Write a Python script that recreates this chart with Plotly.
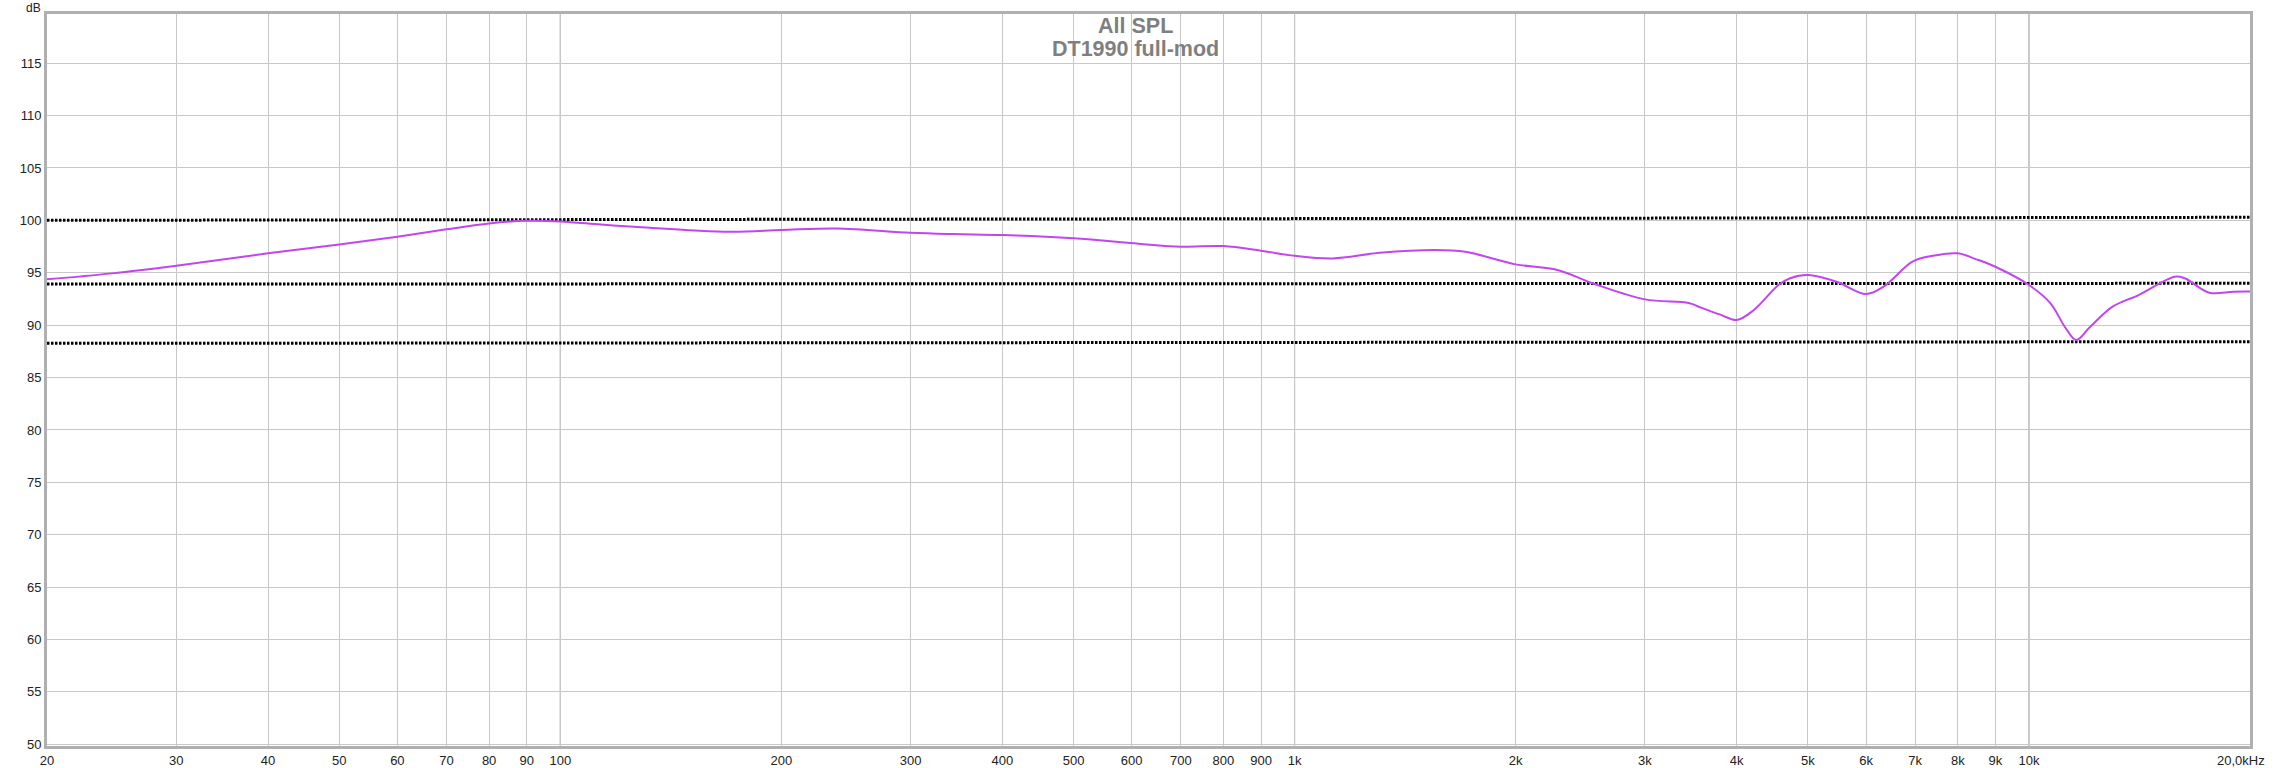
import plotly.graph_objects as go

# ---- data ----
freq_hz = [20, 24.5, 30, 40, 50, 60, 70, 80, 90, 100, 113.6, 126, 170, 200, 238, 300, 344, 400,
           500, 618, 700, 800, 900, 1000, 1126, 1306, 1553, 1708, 2000, 2280, 2563, 3000, 3440,
           3550, 3800, 4000, 4220, 4560, 4730, 5000, 5470, 6000, 6340, 6940, 7360, 8000, 8480,
           9000, 10000, 10700, 11200, 11600, 12100, 13000, 14100, 15800, 16300, 17600, 19000, 20000]
spl_db = [94.37, 94.94, 95.67, 96.85, 97.7, 98.44, 99.14, 99.7, 99.96, 99.9, 99.6, 99.39, 98.91,
          99.07, 99.23, 98.82, 98.69, 98.6, 98.28, 97.75, 97.48, 97.55, 97.1, 96.62, 96.37, 96.9,
          97.17, 97.0, 95.8, 95.26, 93.92, 92.46, 92.12, 91.76, 91.0, 90.49, 91.44, 93.83, 94.47,
          94.78, 94.14, 92.97, 93.67, 96.05, 96.59, 96.85, 96.28, 95.57, 93.83, 92.08, 89.8,
          88.58, 89.8, 91.76, 92.87, 94.62, 94.47, 93.09, 93.19, 93.2]

ref_freq = [20, 20000]
ref_left = [100.0, 93.92, 88.26]
ref_right = [100.29, 93.99, 88.42]

x_tickvals = [20, 30, 40, 50, 60, 70, 80, 90, 100, 200, 300, 400, 500, 600, 700, 800, 900,
              1000, 2000, 3000, 4000, 5000, 6000, 7000, 8000, 9000, 10000, 20000]
x_ticktext = ["20", "30", "40", "50", "60", "70", "80", "90", "100", "200", "300", "400", "500",
              "600", "700", "800", "900", "1k", "2k", "3k", "4k", "5k", "6k", "7k", "8k", "9k",
              "10k", ""]
last_tick_label = "20,0kHz"
decades = [100, 1000, 10000]
y_tickvals = list(range(50, 120, 5))

title_lines = ["All SPL", "DT1990 full-mod"]

FONT = "Liberation Sans, Arial, sans-serif"

fig = go.Figure()

for a, b in zip(ref_left, ref_right):
    fig.add_trace(go.Scatter(
        x=ref_freq, y=[a, b], mode="lines",
        line=dict(color="black", width=3, dash="2.5px,1.5px"),
        hoverinfo="skip", showlegend=False))

fig.add_trace(go.Scatter(
    x=freq_hz, y=spl_db, mode="lines",
    line=dict(color="#c246ee", width=2, shape="spline", smoothing=1.0),
    showlegend=False))

for d in decades:
    fig.add_shape(type="line", xref="x", yref="paper", x0=d, x1=d, y0=0, y1=1,
                  line=dict(color="#8a8a8a", width=1), layer="below")

fig.update_xaxes(
    type="log", range=[1.30103, 4.30103], automargin=False,
    tickmode="array", tickvals=x_tickvals, ticktext=x_ticktext,
    showgrid=True, gridcolor="#c8c8c8", gridwidth=1,
    showline=True, linecolor="#b0b0b0", linewidth=3, mirror=True,
    ticks="", tickfont=dict(family=FONT, size=13, color="#222222"),
    zeroline=False,
)
fig.update_yaxes(
    range=[49.84, 119.69], automargin=False,
    tickmode="array", tickvals=y_tickvals,
    showgrid=True, gridcolor="#c8c8c8", gridwidth=1,
    showline=True, linecolor="#b0b0b0", linewidth=3, mirror=True,
    ticks="", tickfont=dict(family=FONT, size=13, color="#222222"),
    zeroline=False,
)

fig.add_annotation(text=title_lines[0], xref="paper", yref="paper", x=0.494, y=0.9836,
                   xanchor="center", yanchor="middle", showarrow=False,
                   font=dict(family=FONT, size=21.5, color="#7f7f7f", weight="bold"))
fig.add_annotation(text=title_lines[1], xref="paper", yref="paper", x=0.494, y=0.9525,
                   xanchor="center", yanchor="middle", showarrow=False,
                   font=dict(family=FONT, size=21.5, color="#7f7f7f", weight="bold"))
fig.add_annotation(text="dB", xref="paper", yref="paper", x=0, y=1.0, xshift=-4, yshift=6,
                   xanchor="right", yanchor="middle", showarrow=False,
                   font=dict(family=FONT, size=12, color="#222222"))
fig.add_annotation(text=last_tick_label, xref="x", yref="paper", x=4.30103, y=0, xshift=17,
                   yshift=-14, xanchor="right", yanchor="middle", showarrow=False,
                   font=dict(family=FONT, size=13, color="#222222"))

fig.update_layout(
    width=2273, height=768,
    margin=dict(l=47, r=23, t=14, b=22),
    paper_bgcolor="white", plot_bgcolor="white",
    showlegend=False,
)

fig.write_html("out.html",
               config={"displayModeBar": False},
               post_script="document.body.style.margin='0';document.body.style.overflow='hidden';")
